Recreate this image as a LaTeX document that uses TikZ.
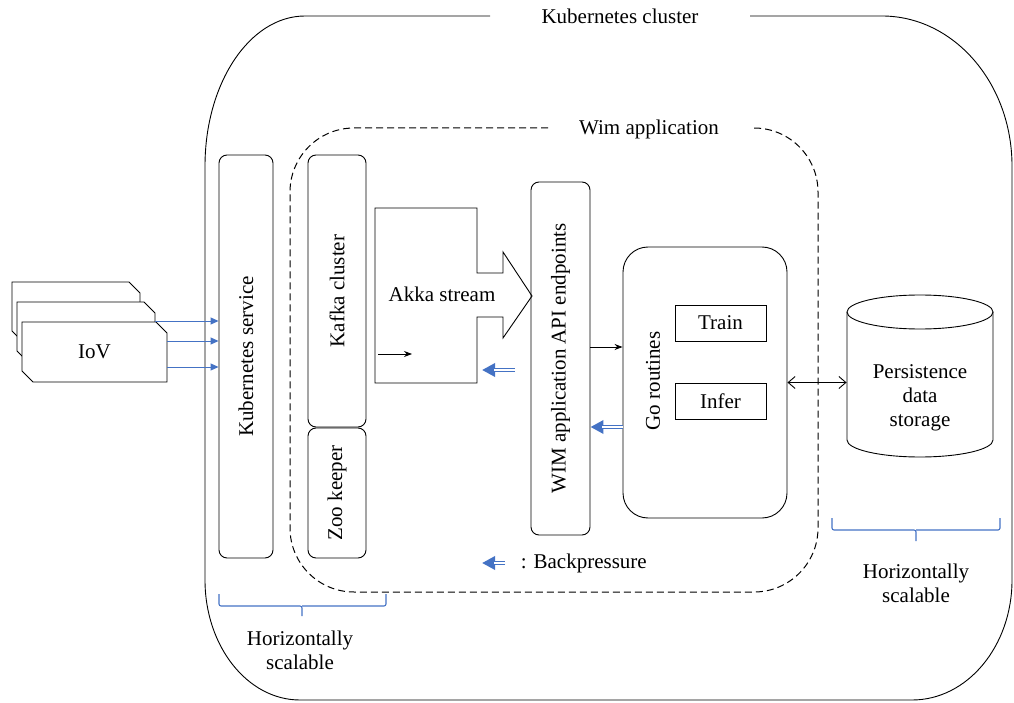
\documentclass[tikz,border=0pt]{standalone}
\usepackage{fontspec}
\setmainfont{Liberation Serif}
\usepackage{graphicx}
\usepackage{tikz}
\usetikzlibrary{positioning, arrows.meta, calc}

\definecolor{bpblue}{RGB}{68,114,196}

\tikzset{
    box/.style={draw=black, line width=0.9pt, rounded corners=8pt, inner sep=0pt},
    plainbox/.style={draw=black, line width=0.9pt, inner sep=0pt},
    flow/.style={draw=black, line width=0.8pt, -{Stealth[length=8pt, width=6pt]}},
    bp/.style={draw=bpblue, line width=3.8pt, -{Triangle[length=13pt, width=13pt]},
        postaction={draw=white, line width=1.4pt, -, shorten >=12pt}},
    feed/.style={draw=bpblue, line width=0.9pt, -{Triangle[length=8pt, width=7pt]}},
    scalebrace/.style={draw=bpblue, line width=1.1pt, rounded corners=2pt},
}

\begin{document}
\begin{tikzpicture}[x=1pt, y=-1pt, font=\fontsize{21}{24}\selectfont, line width=0.9pt]
    \useasboundingbox (0,0) rectangle (1014,703);

    % Kubernetes cluster
    \node (k8s) at (620,16) {Kubernetes cluster};
    \draw (490,16) -- (305,16)
        arc[start angle=270, end angle=180, x radius=100, y radius=150] -- (205,580)
        arc[start angle=180, end angle=90, x radius=95, y radius=120] -- (912,700)
        arc[start angle=90, end angle=0, x radius=100, y radius=120] -- (1012,166)
        arc[start angle=0, end angle=-90, x radius=130, y radius=150] -- (750,16);

    % Wim application
    \node (wimapp) at (649,129) {Wim application};
    \draw[line width=1pt, dash pattern=on 7pt off 4pt, rounded corners=64pt] (548,128) -- (290,128) -- (290,592)
        -- (818,592) -- (818,128) -- (752,128);

    \node[box, minimum width=54pt, minimum height=403pt] (kube) at (246,356.5) {\rotatebox{90}{Kubernetes service}};
    \node[box, minimum width=58pt, minimum height=272pt] (kafka) at (337,291) {\rotatebox{90}{Kafka cluster}};
    \node[box, minimum width=58pt, minimum height=130pt] (zoo) at (337,493) {\rotatebox{90}{Zoo keeper}};
    \node[box, minimum width=59pt, minimum height=353pt] (wim) at (560.5,358.5) {\rotatebox{90}{WIM application API endpoints}};
    \node[box, rounded corners=25pt, minimum width=164pt, minimum height=271pt] (go) at (705,382.5) {};
    \node (gotext) at (653,381) {\rotatebox{90}{Go routines}};
    \node[plainbox, minimum width=91pt, minimum height=36pt] (train) at (720.5,323) {Train};
    \node[plainbox, minimum width=91pt, minimum height=36pt] (infer) at (720.5,401) {Infer};

    % Akka stream
    \draw (375,208) -- (477,208) -- (477,273) -- (503,273) -- (503,252) -- (532,296)
        -- (503,338) -- (503,317) -- (477,317) -- (477,383) -- (375,383) -- cycle;
    \node (akka) at (442,294) {Akka stream};
    \coordinate (akkain) at (378,354);
    \draw[flow] (akkain) -- ++(34,0);
    \coordinate (akkabp) at (515,370);
    \draw[bp] (akkabp) -- ++(-33,0);

    \draw[flow] (wim.east |- 0,347) -- (go.west |- 0,347);
    \draw[bp] (go.west |- 0,427) -- (wim.east |- 0,427);

    % storage
    \node[align=center, minimum width=146pt, inner sep=0pt] (store) at (920,398) {Persistence\\data\\storage};
    \draw (847,312) -- (847,440) arc[start angle=180, end angle=0, x radius=73, y radius=17] -- (993,312);
    \draw (920,312) ellipse[x radius=73, y radius=17];
    \draw[{Straight Barb[length=7pt, width=12pt]}-{Straight Barb[length=7pt, width=12pt]}] (go.east) -- (go.east -| store.west);

    % IoV
    \foreach \ox/\oy/\w in {12/282/128, 17/302/138, 22/322/145} {
        \draw[fill=white] (\ox,\oy) -- ++(\w-11,0) -- ++(11,11) -- ++(0,49) -- ++(-\w+11,0) -- ++(-11,-11) -- cycle;
    }
    \node[minimum width=145pt, minimum height=60pt] (iov) at (94.5,352) {IoV};
    \foreach \dx/\dy [count=\i] in {-12/-31, 0/-11, 0/15} {
        \coordinate (iovout\i) at ($(iov.east)+(\dx,\dy)$);
        \draw[feed] (iovout\i) -- (iovout\i -| kube.west);
    }

    % scalable
    \draw[scalebrace] (219,594) |- (302,606) -- (302,616);
    \draw[scalebrace] (302,606) -| (386,594);
    \node[align=center] (hs1) at (300,650) {Horizontally\\scalable};
    \draw[scalebrace] (832,518) |- (916,530) -- (916,541);
    \draw[scalebrace] (916,530) -| (1000,518);
    \node[align=center] (hs2) at (916,583) {Horizontally\\scalable};

    % legend
    \node[anchor=west] (legend) at (517,563) {: Backpressure};
    \draw[bp] ([xshift=-12pt]legend.west) -- ++(-23,0);
\end{tikzpicture}
\end{document}
